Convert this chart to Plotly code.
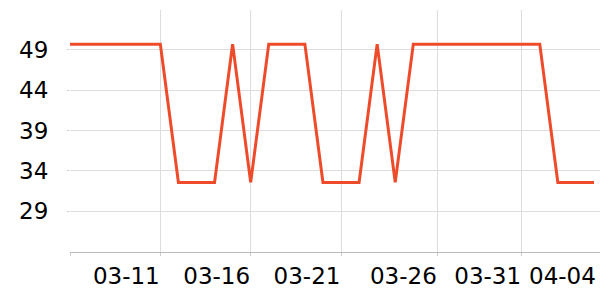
import plotly.graph_objects as go
import pandas as pd

dates = pd.date_range("2024-03-06", "2024-04-04", freq="D")
HI, LO = 49.72, 32.56
values = [HI]*6 + [LO]*3 + [HI] + [LO] + [HI]*3 + [LO]*3 + [HI] + [LO] + [HI]*8 + [LO]*3

y_ticks = [29, 34, 39, 44, 49]
x_tickvals = ["2024-03-06", "2024-03-11", "2024-03-16", "2024-03-21", "2024-03-26 08:00", "2024-03-31"]
x_ticktext = ["", "03-11", "03-16", "03-21", "03-26", "03-31"]
last_label_pos = "2024-04-04 06:00"
last_label = "04-04"

FONT = "DejaVu Sans"

fig = go.Figure()
fig.add_trace(go.Scatter(
    x=dates, y=values, mode="lines",
    line=dict(color="#EE4B2B", width=3),
    hoverinfo="skip",
))

fig.update_layout(
    width=600, height=300,
    margin=dict(l=70, r=0, t=10, b=48),
    plot_bgcolor="white", paper_bgcolor="white",
    showlegend=False,
    font=dict(family=FONT, size=23, color="#000"),
    xaxis=dict(
        type="date",
        range=["2024-03-06", "2024-04-04 08:00"],
        tickmode="array", tickvals=x_tickvals, ticktext=x_ticktext,
        ticklabelshift=-34,
        showgrid=True, gridcolor="#dddddd", gridwidth=1,
        showline=True, linecolor="#bbbbbb", linewidth=1,
        ticks="outside", ticklen=3, tickcolor="#cccccc",
        zeroline=False,
        tickfont=dict(family=FONT, size=23, color="#000"),
    ),
    yaxis=dict(
        range=[23.92, 53.96],
        tickmode="array", tickvals=y_ticks,
        showgrid=True, gridcolor="#dddddd", gridwidth=1,
        showline=False,
        ticks="outside", ticklen=2, tickcolor="#cccccc",
        zeroline=False,
        ticklabelstandoff=14,
        tickfont=dict(family=FONT, size=23, color="#000"),
    ),
    annotations=[dict(
        x=last_label_pos, y=0, xref="x", yref="paper",
        text=last_label, showarrow=False,
        xanchor="right", yanchor="top", yshift=-9,
        font=dict(family=FONT, size=23, color="#000"),
    )],
)

fig.write_html("out.html")
